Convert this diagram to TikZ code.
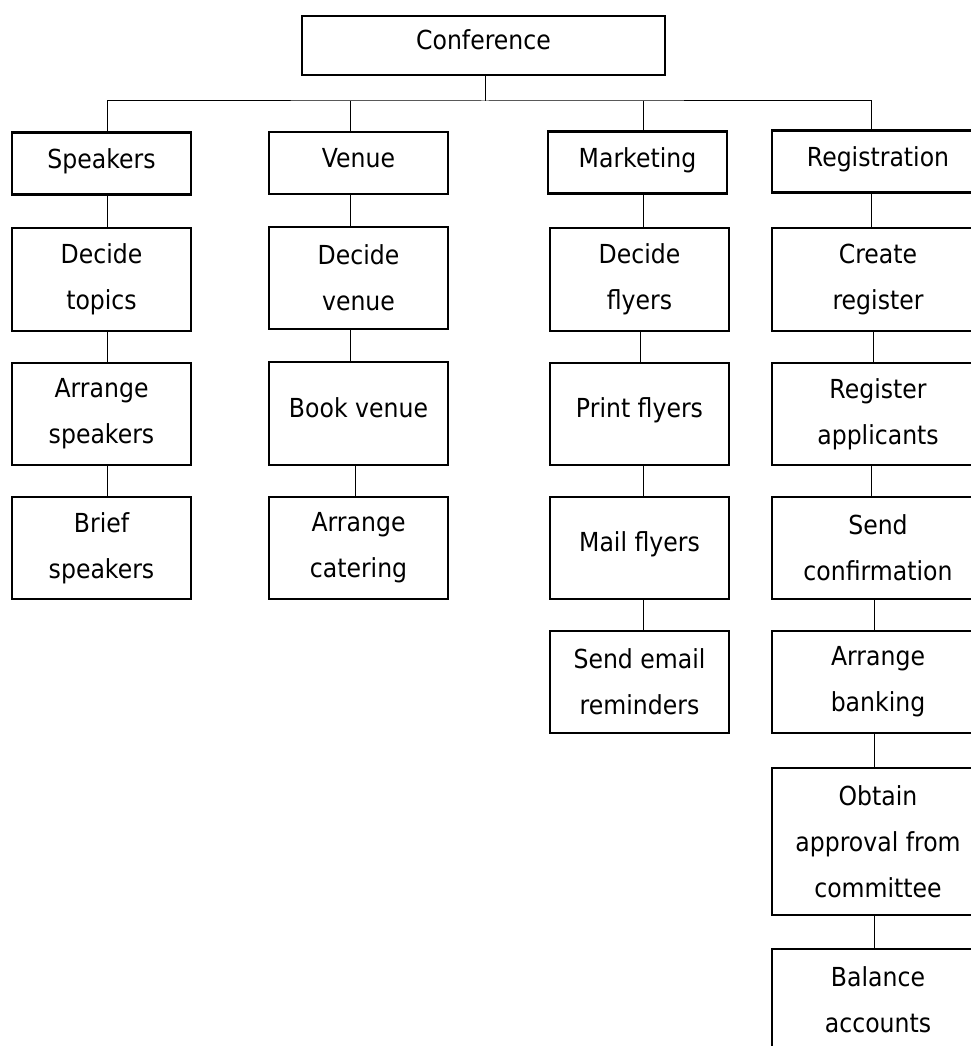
\documentclass[tikz,border=0pt]{standalone}
\usepackage{fontspec}
\setmainfont[FakeStretch=0.9]{DejaVu Sans}
\begin{document}
\begin{tikzpicture}[x=1pt,y=-1pt,
  box/.style={draw=black, line width=2.2pt, rectangle, inner sep=0pt, outer sep=0pt,
    align=center, font=\fontsize{26.2}{46}\selectfont},
  head/.style={box, minimum height=62pt, text height=19pt, text depth=10pt},
  task/.style={box, minimum height=102pt},
  single/.style={text height=19pt, text depth=12pt},
  link/.style={draw=black, line width=1pt}]
\useasboundingbox (0,0) rectangle (971,1046);
\clip (0,0) rectangle (971,1046);

% root and the four branches
\node[head, minimum width=363pt, minimum height=59pt] (conf) at (483.5,45.5) {Conference};
\node[head, minimum width=179pt] (spk) at (101.5,163.5) {Speakers};
\node[head, minimum width=179pt] (ven) at (358.5,163) {Venue};
\node[head, minimum width=179pt] (mkt) at (637.5,162.5) {Marketing};
\node[head, minimum width=212pt] (reg) at (878,161.5) {Registration};

% Speakers tasks
\node[task, minimum width=179pt, minimum height=103pt] (s1) at (101.5,279.5) {Decide\\topics};
\node[task, minimum width=179pt] (s2) at (101.5,414) {Arrange\\speakers};
\node[task, minimum width=179pt] (s3) at (101.5,548) {Brief\\speakers};

% Venue tasks
\node[task, minimum width=179pt] (v1) at (358.5,278) {Decide\\venue};
\node[task, single, minimum width=179pt, minimum height=103pt] (v2) at (358.5,413.5) {Book venue};
\node[task, minimum width=179pt] (v3) at (358.5,548) {Arrange\\catering};

% Marketing tasks
\node[task, minimum width=179pt, minimum height=103pt] (m1) at (639.5,279.5) {Decide\\flyers};
\node[task, single, minimum width=179pt] (m2) at (639.5,414) {Print flyers};
\node[task, single, minimum width=179pt] (m3) at (639.5,548) {Mail flyers};
\node[task, minimum width=179pt] (m4) at (639.5,682) {Send email\\reminders};

% Registration tasks
\node[task, minimum width=212pt, minimum height=103pt] (r1) at (878,279.5) {Create\\register};
\node[task, minimum width=212pt] (r2) at (878,414) {Register\\applicants};
\node[task, minimum width=212pt] (r3) at (878,548) {Send\\confirmation};
\node[task, minimum width=212pt] (r4) at (878,682) {Arrange\\banking};
\node[task, minimum width=212pt, minimum height=147pt] (r5) at (878,841.5) {Obtain\\approval from\\committee};
\node[task, minimum width=212pt] (r6) at (878,1000) {Balance\\accounts};

% bus from the root to the branches
\draw[link] ([xshift=1.5pt]conf.south) -- ++(0,26) coordinate (hub);
\draw[link] ([xshift=5.5pt]spk.north) |- (hub) -| ([xshift=-7pt]reg.north);
\draw[link] ([xshift=-8.5pt]ven.north) -- ([xshift=-8.5pt]ven.north |- hub);
\draw[link] ([xshift=5.5pt]mkt.north) -- ([xshift=5.5pt]mkt.north |- hub);

% Speakers chain
\draw[link] ([xshift=5.5pt]spk.south) -- ([xshift=5.5pt]spk.south |- s1.north);
\draw[link] ([xshift=5.5pt]s1.south) -- ([xshift=5.5pt]s1.south |- s2.north);
\draw[link] ([xshift=5.5pt]s2.south) -- ([xshift=5.5pt]s2.south |- s3.north);

% Venue chain
\draw[link] ([xshift=-8.5pt]ven.south) -- ([xshift=-8.5pt]ven.south |- v1.north);
\draw[link] ([xshift=-8.5pt]v1.south) -- ([xshift=-8.5pt]v1.south |- v2.north);
\draw[link] ([xshift=-3.5pt]v2.south) -- ([xshift=-3.5pt]v2.south |- v3.north);

% Marketing chain
\draw[link] ([xshift=5.5pt]mkt.south) -- ([xshift=5.5pt]mkt.south |- m1.north);
\draw[link] ([xshift=0.5pt]m1.south) -- ([xshift=0.5pt]m1.south |- m2.north);
\draw[link] ([xshift=3.5pt]m2.south) -- ([xshift=3.5pt]m2.south |- m3.north);
\draw[link] ([xshift=3.5pt]m3.south) -- ([xshift=3.5pt]m3.south |- m4.north);

% Registration chain
\draw[link] ([xshift=-7pt]reg.south) -- ([xshift=-7pt]reg.south |- r1.north);
\draw[link] ([xshift=-5pt]r1.south) -- ([xshift=-5pt]r1.south |- r2.north);
\draw[link] ([xshift=-7pt]r2.south) -- ([xshift=-7pt]r2.south |- r3.north);
\draw[link] ([xshift=-4pt]r3.south) -- ([xshift=-4pt]r3.south |- r4.north);
\draw[link] ([xshift=-4pt]r4.south) -- ([xshift=-4pt]r4.south |- r5.north);
\draw[link] ([xshift=-4pt]r5.south) -- ([xshift=-4pt]r5.south |- r6.north);
\end{tikzpicture}
\end{document}
